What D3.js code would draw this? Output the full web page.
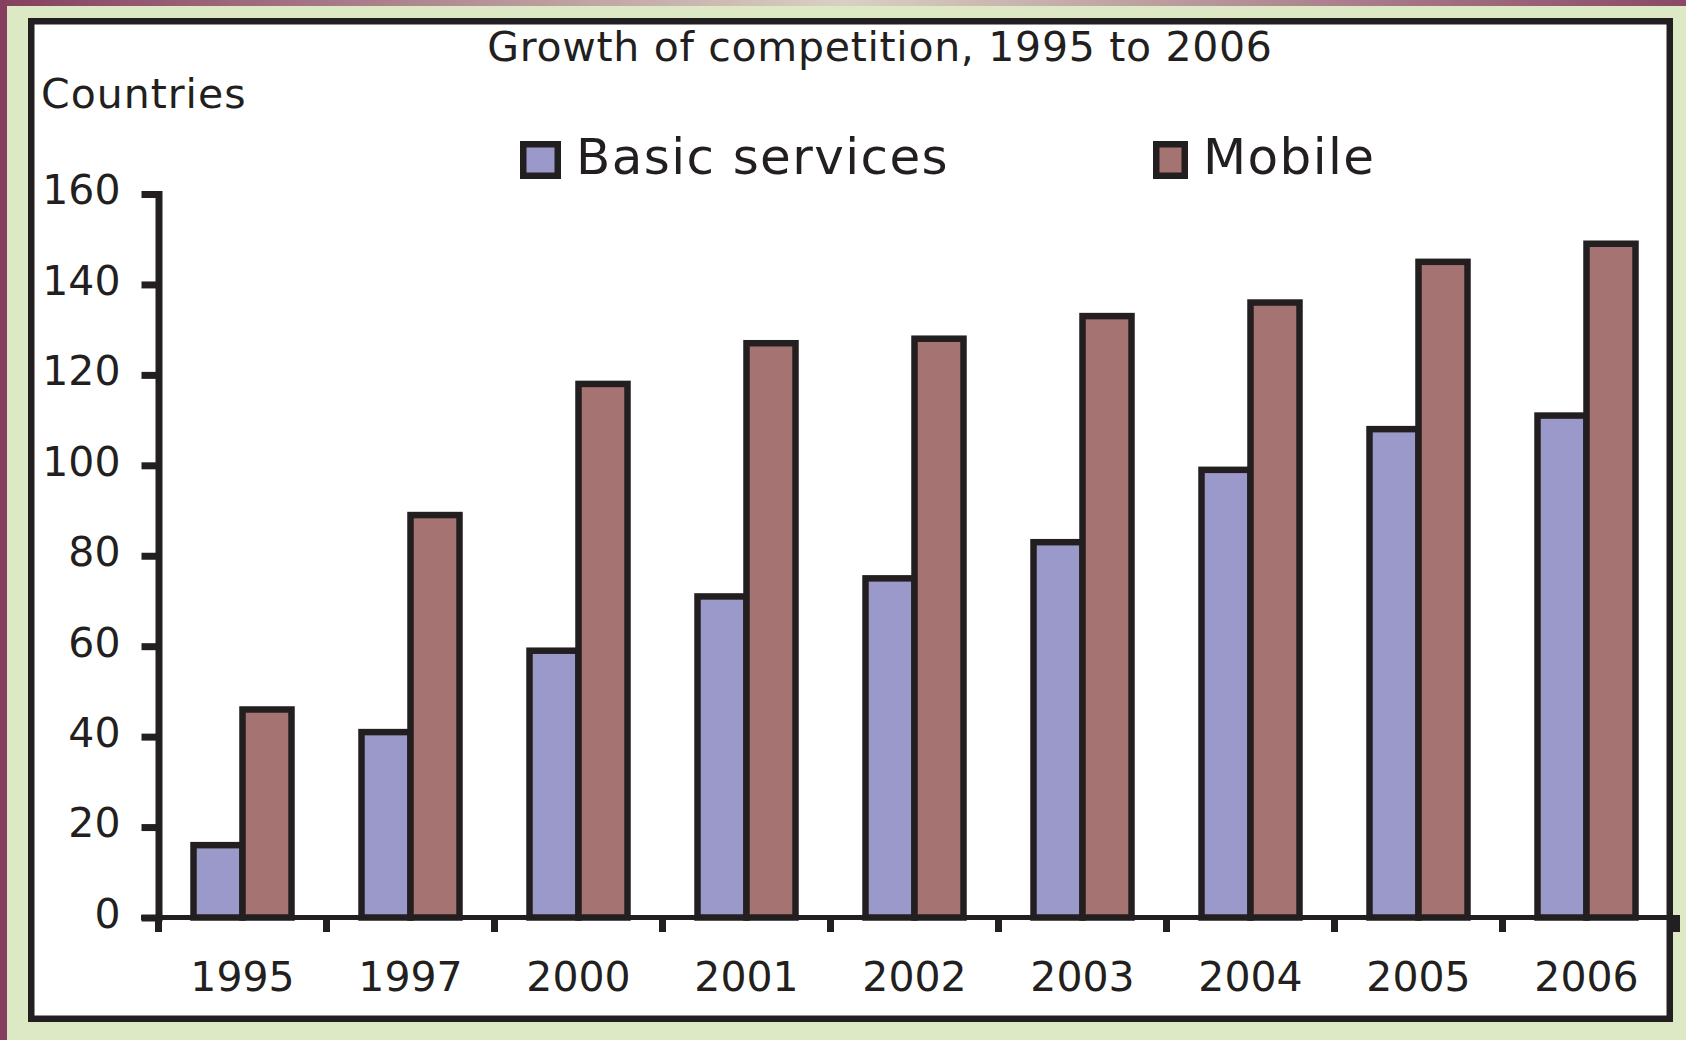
<!DOCTYPE html>
<html>
<head>
<meta charset="utf-8">
<script src="https://cdn.jsdelivr.net/npm/d3@7"></script>
<style>
  html, body { margin: 0; padding: 0; background: #dce9c4; }
  svg { display: block; }
  text { font-family: "DejaVu Sans", sans-serif; fill: #231f20; }
</style>
</head>
<body>
<svg id="chart" width="1686" height="1040"></svg>
<script>
// ---- data ----
const years = ["1995", "1997", "2000", "2001", "2002", "2003", "2004", "2005", "2006"];
const basicServices = [16, 41, 59, 71, 75, 83, 99, 108, 111];
const mobile = [46, 89, 118, 127, 128, 133, 136, 145, 149];
const seriesNames = ["Basic services", "Mobile"];
const yTickValues = [0, 20, 40, 60, 80, 100, 120, 140, 160];
const titleText = "Growth of competition, 1995 to 2006";
const yAxisTitle = "Countries";

// ---- styles ----
const ink = "#231f20";
const seriesColors = ["#9b99c9", "#a57371"];

const svg = d3.select("#chart");

// background decoration
const defs = svg.append("defs");
const grad = defs.append("linearGradient").attr("id", "topgrad").attr("x1", "0").attr("x2", "1");
grad.append("stop").attr("offset", "0").attr("stop-color", "#85405f");
grad.append("stop").attr("offset", "0.5").attr("stop-color", "#d9d0c2");
grad.append("stop").attr("offset", "1").attr("stop-color", "#8a4866");
svg.append("rect").attr("x", 0).attr("y", 0).attr("width", 1686).attr("height", 1040).attr("fill", "#dce9c4");
svg.append("rect").attr("x", 0).attr("y", 0).attr("width", 1686).attr("height", 6).attr("fill", "url(#topgrad)");
svg.append("rect").attr("x", 0).attr("y", 0).attr("width", 7).attr("height", 1040).attr("fill", "#843f5e");

// frame
svg.append("rect")
  .attr("x", 31.25).attr("y", 21.25).attr("width", 1638.5).attr("height", 997.5)
  .attr("fill", "#ffffff").attr("stroke", ink).attr("stroke-width", 6.5);

// ---- scales ----
const x0 = d3.scaleBand().domain(years).range([158.5, 1670.5])
  .paddingInner(70 / 168).paddingOuter(35 / 168);
const x1 = d3.scaleBand().domain(seriesNames).range([0, x0.bandwidth()]);
const y = d3.scaleLinear().domain([0, 160]).range([917.5, 194]);
const color = d3.scaleOrdinal().domain(seriesNames).range(seriesColors);

const rows = years.map((yr, i) => ({ year: yr, values: [
  { key: seriesNames[0], value: basicServices[i] },
  { key: seriesNames[1], value: mobile[i] }
]}));

// ---- bars ----
const groups = svg.append("g").selectAll("g").data(rows).join("g")
  .attr("transform", d => `translate(${x0(d.year)},0)`);
groups.selectAll("rect").data(d => d.values).join("rect")
  .attr("x", d => x1(d.key))
  .attr("y", d => y(d.value))
  .attr("width", x1.bandwidth())
  .attr("height", d => y(0) - y(d.value))
  .attr("fill", d => color(d.key))
  .attr("stroke", ink)
  .attr("stroke-width", 6.5);

// ---- y axis ----
const yAxis = svg.append("g").attr("transform", "translate(158.5,0)")
  .call(d3.axisLeft(y).tickValues(yTickValues).tickSizeInner(17).tickSizeOuter(0).tickPadding(21));
yAxis.select(".domain").attr("stroke", ink).attr("stroke-width", 7).attr("stroke-linecap", "square");
yAxis.selectAll(".tick line").attr("stroke", ink).attr("stroke-width", 7);
yAxis.selectAll(".tick text")
  .attr("font-family", "DejaVu Sans, sans-serif")
  .attr("font-size", 41).attr("fill", ink).attr("dy", "0.24em");

// ---- x axis ----
const xr = x0.range();
svg.append("line").attr("x1", 141).attr("x2", 1680).attr("y1", y(0)).attr("y2", y(0))
  .attr("stroke", ink).attr("stroke-width", 5);
const boundaries = d3.range(years.length + 1).map(i => xr[0] + i * x0.step());
svg.append("g").selectAll("line").data(boundaries).join("line")
  .attr("x1", d => d).attr("x2", d => d)
  .attr("y1", y(0)).attr("y2", y(0) + 14.5)
  .attr("stroke", ink).attr("stroke-width", 7);
svg.append("rect").attr("x", 1673).attr("y", y(0) - 2.5).attr("width", 7).attr("height", 17)
  .attr("fill", ink);
svg.append("g").selectAll("text").data(years).join("text")
  .attr("x", d => x0(d) + x0.bandwidth() / 2)
  .attr("y", 991)
  .attr("text-anchor", "middle")
  .attr("font-size", 41)
  .text(d => d);

// ---- titles ----
svg.append("text").attr("x", 880).attr("y", 61).attr("text-anchor", "middle")
  .attr("font-size", 41).attr("letter-spacing", "0.7px").text(titleText);
svg.append("text").attr("x", 41).attr("y", 108).attr("font-size", 41)
  .attr("letter-spacing", "1px").text(yAxisTitle);

// ---- legend ----
const legendItems = [
  { name: seriesNames[0], bx: 523.25, bw: 34.5, tx: 576 },
  { name: seriesNames[1], bx: 1156.25, bw: 28.5, tx: 1203 }
];
const lg = svg.append("g");
lg.selectAll("rect").data(legendItems).join("rect")
  .attr("x", d => d.bx).attr("y", 144.25).attr("width", d => d.bw).attr("height", 31.5)
  .attr("fill", d => color(d.name)).attr("stroke", ink).attr("stroke-width", 6.5);
lg.selectAll("text").data(legendItems).join("text")
  .attr("x", d => d.tx).attr("y", 174)
  .attr("font-size", 50).attr("letter-spacing", "1.4px")
  .text(d => d.name);
</script>
</body>
</html>
